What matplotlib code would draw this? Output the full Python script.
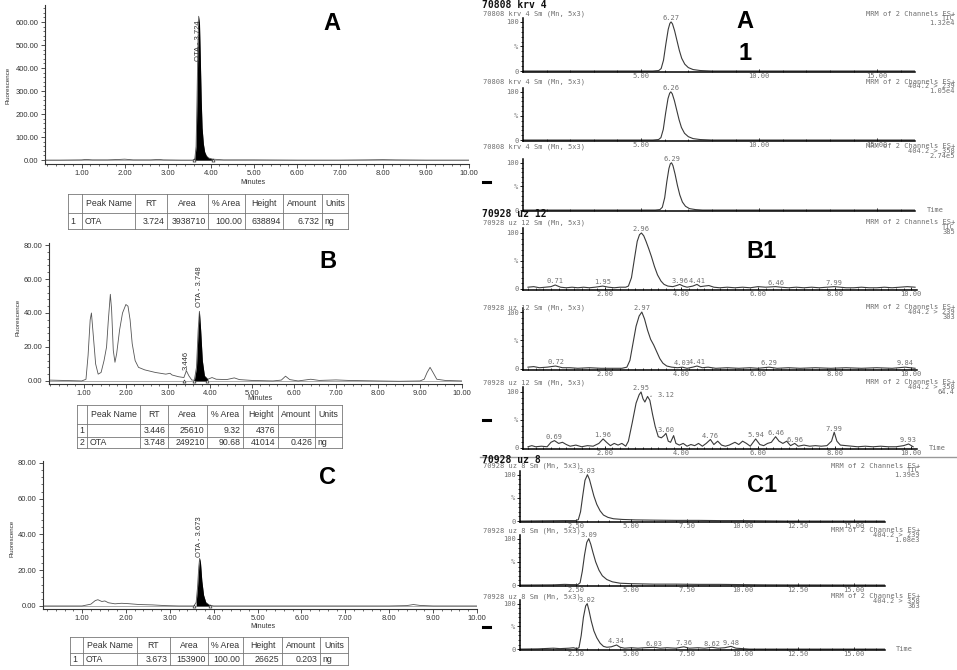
#!/usr/bin/env python3
"""
Chromatogram composite: HPLC-FLD runs (A, B, C) left, LC-MS/MS MRM runs (A1, B1, C1) right.
"""
import numpy as np
import matplotlib
matplotlib.use('Agg')
import matplotlib.pyplot as plt
from matplotlib.ticker import MultipleLocator, FormatStrFormatter, FixedLocator, FixedFormatter

plt.rcParams['font.family'] = ['Liberation Sans', 'DejaVu Sans']

W, H = 957, 670
MONO = 'DejaVu Sans Mono'
GREY = '#707070'
MS_FS = 5.0

# ── HPLC-FLD traces: (minutes, fluorescence) ────────────────────────────────
FLD_A = [(0.15, 0), (0.5, 0), (1.0, 1), (1.1, 3), (1.25, 1), (1.6, 1), (1.9, 3), (2.0, 4),
         (2.2, 1), (2.6, 1), (2.8, 3), (2.9, 1), (3.3, 0), (3.58, 0), (3.63, 5), (3.66, 60),
         (3.68, 250), (3.70, 480), (3.72, 625), (3.74, 590), (3.76, 430), (3.78, 260),
         (3.80, 140), (3.83, 70), (3.86, 35), (3.90, 18), (3.95, 9), (4.05, 4), (4.3, 1),
         (5.0, 1), (6.0, 0), (7.0, 0), (7.6, 1), (8.0, 2), (8.3, 1), (9.0, 0), (10.0, 0)]
FLD_B = [(0.17, 0.5), (0.5, 0.3), (0.95, 0), (1.05, 1), (1.10, 15), (1.15, 36), (1.18, 40),
         (1.22, 28), (1.28, 10), (1.34, 4), (1.41, 5), (1.48, 12), (1.54, 20), (1.58, 35),
         (1.63, 51), (1.66, 42), (1.70, 18), (1.74, 11), (1.78, 16), (1.85, 30), (1.92, 40),
         (2.00, 45), (2.05, 44), (2.10, 36), (2.15, 22), (2.22, 12), (2.30, 8), (2.45, 6.5),
         (2.70, 5), (2.95, 4), (3.05, 4.5), (3.10, 3.5), (3.25, 2.5), (3.38, 2), (3.44, 6),
         (3.50, 3), (3.57, 0.5), (3.63, 0.5), (3.68, 8), (3.72, 30), (3.75, 41), (3.78, 30),
         (3.82, 12), (3.87, 3), (3.95, 1), (4.05, 2), (4.15, 1), (4.4, 0.8), (4.58, 1.8),
         (4.7, 0.8), (5.0, 0.3), (5.5, 0), (5.7, 0.5), (5.80, 2.8), (5.90, 0.8), (6.1, 0),
         (6.4, 1), (6.6, 0.3), (7.0, 0.6), (7.3, 0.3), (8.0, 0), (8.5, -0.2), (9.0, 0),
         (9.1, 1), (9.17, 5), (9.24, 8), (9.31, 5), (9.40, 1), (9.6, 0.3), (10.0, 0)]
FLD_C = [(0.1, 0), (1.0, 0), (1.2, 1), (1.30, 3), (1.36, 3.5), (1.45, 2.5), (1.52, 2.8),
         (1.6, 1.8), (1.75, 1.2), (1.9, 1.5), (2.05, 1.3), (2.3, 0.8), (2.6, 0.6), (2.9, 0.2),
         (3.2, 0), (3.55, 0), (3.60, 2), (3.63, 10), (3.66, 22), (3.68, 26.6), (3.70, 24),
         (3.73, 14), (3.77, 6), (3.82, 2), (3.9, 0.5), (4.0, 0), (8.0, 0), (8.4, 0.2),
         (8.55, 0.8), (8.7, 0.3), (9.0, 0), (10.0, 0)]

# peak annotations: (RT, label, label base in y units)
FLD_A_LABELS = [(3.724, 'OTA - 3.724', 430)]
FLD_B_LABELS = [(3.446, '3.446', 6.5), (3.748, 'OTA - 3.748', 43.5)]
FLD_C_LABELS = [(3.673, 'OTA - 3.673', 27.4)]
FLD_A_FILL = (3.62, 4.05)
FLD_B_FILL = (3.62, 3.95)
FLD_C_FILL = (3.56, 3.92)
FLD_A_MARKS = [3.60, 4.05]
FLD_B_MARKS = [3.38, 3.62, 3.93]
FLD_C_MARKS = [3.55, 3.92]

TABLE_HEADER = ['', 'Peak Name', 'RT', 'Area', '% Area', 'Height', 'Amount', 'Units']
TABLE_A = [['1', 'OTA', '3.724', '3938710', '100.00', '638894', '6.732', 'ng']]
TABLE_B = [['1', '', '3.446', '25610', '9.32', '4376', '', ''],
           ['2', 'OTA', '3.748', '249210', '90.68', '41014', '0.426', 'ng']]
TABLE_C = [['1', 'OTA', '3.673', '153900', '100.00', '26625', '0.203', 'ng']]

# ── LC-MS/MS traces: (time, relative %) ─────────────────────────────────────
A1_TIC = [(0, 0), (5.5, 0), (5.75, 1), (5.85, 5), (5.95, 22), (6.05, 55), (6.15, 85), (6.22, 97),
          (6.27, 100), (6.33, 96), (6.42, 82), (6.52, 62), (6.62, 42), (6.72, 26), (6.85, 14),
          (7.0, 7), (7.2, 3), (7.5, 1), (8.0, 0), (16.6, 0)]
A1_239 = [(0, 0), (5.5, 0), (5.74, 1), (5.84, 5), (5.94, 22), (6.04, 56), (6.14, 86), (6.21, 97),
          (6.26, 100), (6.32, 96), (6.41, 82), (6.51, 62), (6.61, 42), (6.71, 26), (6.84, 14),
          (7.0, 7), (7.2, 3), (7.5, 1), (8.0, 0), (16.6, 0)]
A1_358 = [(0, 0), (5.6, 0), (5.8, 1), (5.9, 6), (6.0, 26), (6.09, 60), (6.18, 88), (6.24, 98),
          (6.29, 100), (6.35, 94), (6.44, 76), (6.54, 52), (6.64, 32), (6.75, 17), (6.88, 8),
          (7.05, 3), (7.3, 1), (7.6, 0), (16.6, 0)]

B1_TIC = [(0.0, 3), (0.15, 4), (0.3, 2), (0.45, 3), (0.6, 4), (0.71, 7), (0.85, 3), (1.0, 2),
          (1.15, 3), (1.3, 2), (1.45, 3), (1.6, 2), (1.75, 3), (1.95, 5), (2.1, 3), (2.25, 2),
          (2.4, 3), (2.55, 3), (2.62, 5), (2.70, 20), (2.78, 55), (2.85, 85), (2.91, 97),
          (2.96, 100), (3.02, 95), (3.08, 85), (3.15, 72), (3.22, 58), (3.30, 40), (3.38, 25),
          (3.47, 14), (3.55, 8), (3.65, 5), (3.78, 4), (3.88, 6), (3.96, 8), (4.05, 5),
          (4.15, 3), (4.3, 5), (4.41, 8), (4.5, 4), (4.6, 5), (4.72, 6), (4.85, 3), (5.0, 2),
          (5.2, 3), (5.4, 2), (5.6, 3), (5.8, 2), (6.0, 4), (6.2, 3), (6.46, 4), (6.6, 3),
          (6.8, 2), (7.0, 3), (7.2, 2), (7.4, 3), (7.6, 2), (7.8, 3), (7.99, 4), (8.15, 3),
          (8.3, 2), (8.5, 2), (8.7, 3), (8.9, 2), (9.1, 2), (9.3, 3), (9.5, 2), (9.7, 3),
          (9.9, 4), (10.1, 3)]
B1_239 = [(0, 3), (0.15, 4), (0.3, 2), (0.5, 3), (0.72, 5), (0.9, 2), (1.1, 2), (1.3, 1),
          (1.6, 2), (1.9, 1), (2.2, 1), (2.45, 1), (2.58, 3), (2.66, 15), (2.74, 45),
          (2.82, 75), (2.90, 93), (2.97, 100), (3.04, 88), (3.12, 68), (3.20, 52), (3.28, 42),
          (3.36, 30), (3.44, 18), (3.52, 10), (3.62, 5), (3.75, 3), (3.9, 2), (4.03, 3),
          (4.15, 1), (4.3, 3), (4.41, 5), (4.55, 2), (4.7, 3), (4.9, 1), (5.2, 2), (5.5, 1),
          (5.8, 2), (6.0, 1), (6.29, 3), (6.5, 1), (6.8, 2), (7.1, 1), (7.5, 2), (7.9, 1),
          (8.3, 2), (8.7, 1), (9.1, 2), (9.5, 1), (9.84, 3), (10.1, 1)]
B1_358 = [(0, 2), (0.1, 4), (0.2, 2), (0.35, 3), (0.5, 2), (0.6, 10), (0.69, 13), (0.8, 8),
          (0.9, 10), (1.0, 6), (1.1, 3), (1.25, 5), (1.4, 2), (1.55, 4), (1.7, 3), (1.85, 8),
          (1.96, 16), (2.05, 10), (2.15, 4), (2.25, 8), (2.35, 5), (2.45, 8), (2.55, 3),
          (2.62, 12), (2.72, 45), (2.82, 80), (2.90, 95), (2.95, 100), (3.00, 88), (3.05, 82),
          (3.12, 92), (3.18, 85), (3.25, 60), (3.32, 38), (3.40, 20), (3.48, 18), (3.55, 22),
          (3.60, 26), (3.66, 12), (3.72, 10), (3.80, 22), (3.86, 8), (3.95, 5), (4.05, 8),
          (4.15, 3), (4.25, 6), (4.35, 4), (4.45, 8), (4.55, 3), (4.65, 8), (4.76, 15),
          (4.85, 6), (4.95, 12), (5.05, 5), (5.15, 3), (5.25, 5), (5.40, 10), (5.50, 6),
          (5.60, 12), (5.70, 8), (5.80, 3), (5.94, 16), (6.05, 6), (6.15, 4), (6.25, 8),
          (6.35, 10), (6.46, 20), (6.55, 12), (6.65, 8), (6.75, 12), (6.85, 4), (6.96, 8),
          (7.05, 3), (7.2, 5), (7.35, 3), (7.5, 4), (7.65, 3), (7.8, 4), (7.92, 12),
          (7.99, 28), (8.06, 12), (8.15, 5), (8.3, 4), (8.45, 3), (8.6, 2), (8.8, 3), (9.0, 2),
          (9.2, 3), (9.4, 2), (9.6, 2), (9.8, 4), (9.93, 7), (10.05, 2)]

C1_TIC = [(0, 0), (1.0, 0.5), (2.0, 1), (2.5, 1), (2.62, 3), (2.72, 20), (2.82, 55),
          (2.92, 88), (3.03, 100), (3.12, 90), (3.22, 72), (3.32, 54), (3.45, 36), (3.6, 22),
          (3.75, 13), (3.95, 8), (4.2, 5), (4.6, 3.5), (5.2, 2.5), (6.0, 2), (7.0, 1.5),
          (8.0, 1.5), (9.0, 1), (10.0, 1), (11, 0.5), (12, 0), (16.4, 0)]
C1_239 = [(0, 0), (1.5, 0.5), (2.0, 1.5), (2.3, 1), (2.6, 1), (2.70, 5), (2.80, 30),
          (2.90, 65), (3.00, 92), (3.09, 100), (3.18, 88), (3.28, 70), (3.40, 50), (3.55, 32),
          (3.70, 20), (3.90, 12), (4.15, 7), (4.5, 4), (5.0, 3), (6.0, 2), (7.0, 2), (8.0, 1.5),
          (9.0, 1.5), (10.0, 1), (11, 0.5), (12, 0.3), (16.4, 0)]
C1_358 = [(0, 0), (0.8, 0.5), (1.5, 2), (1.8, 1), (2.2, 2), (2.4, 3), (2.55, 1), (2.65, 3),
          (2.75, 30), (2.85, 70), (2.95, 95), (3.02, 100), (3.10, 85), (3.2, 62), (3.32, 40),
          (3.45, 25), (3.6, 13), (3.75, 6), (3.9, 4), (4.1, 5), (4.34, 9), (4.5, 4), (4.7, 2),
          (5.0, 3), (5.3, 2), (5.6, 3), (6.03, 4), (6.3, 2), (6.6, 3), (7.0, 2), (7.36, 5),
          (7.6, 2), (8.0, 3), (8.3, 2), (8.62, 4), (8.9, 2), (9.2, 3), (9.48, 6), (9.7, 2),
          (10.0, 1), (10.3, 0), (16.4, 0)]

A1_PEAKS = [[6.27], [6.26], [6.29]]
B1_PEAKS = [[0.71, 1.95, 2.96, 3.96, 4.41, 6.46, 7.99],
            [0.72, 2.97, 4.03, 4.41, 6.29, 9.84],
            [0.69, 1.96, 2.95, 3.12, 3.60, 4.76, 5.94, 6.46, 6.96, 7.99, 9.93]]
C1_PEAKS = [[3.03], [3.09], [3.02, 4.34, 6.03, 7.36, 8.62, 9.48]]

A1_SAMPLE, B1_SAMPLE, C1_SAMPLE = '70808 krv 4', '70928 uz 12', '70928 uz 8'
A1_INFO = [('TIC', '1.32e4'), ('404.2 > 239', '1.05e4'), ('404.2 > 358', '2.74e5')]
B1_INFO = [('TIC', '385'), ('404.2 > 239', '303'), ('404.2 > 358', '64.4')]
C1_INFO = [('TIC', '1.39e3'), ('404.2 > 239', '1.08e3'), ('404.2 > 358', '363')]
A1_TICKS = [5.0, 10.0, 15.0]
B1_TICKS = [2.0, 4.0, 6.0, 8.0, 10.0]
C1_TICKS = [2.5, 5.0, 7.5, 10.0, 12.5, 15.0]


def box(l, t, r, b):
    return [l / W, 1 - b / H, (r - l) / W, (b - t) / H]


def ftext(fig, x, y, s, **kw):
    fig.text(x / W, 1 - y / H, s, **kw)


def fld_panel(fig, rect, data, xlim, ylim, ystep, fill, labels, marks):
    t, y = map(np.array, zip(*data))
    ax = fig.add_axes(rect)
    ax.axhline(0, color='#888888', lw=0.5, zorder=1)
    ax.plot(t, y, color='#555555', lw=0.6, zorder=2)
    ax.fill_between(t, 0, y, where=(t >= fill[0]) & (t <= fill[1]),
                    color='black', lw=0, zorder=3)
    ax.plot(marks, np.full(len(marks), 0.0), ls='none', marker='^', ms=2.2,
            mfc='white', mec='#333333', mew=0.5, zorder=4, clip_on=False)
    for rt, txt, yb in labels:
        ax.text(rt, yb, txt, rotation=90, ha='center', va='bottom',
                fontsize=5.5, color='#333333', zorder=5)
    ax.set_xlim(*xlim)
    ax.set_ylim(*ylim)
    ax.xaxis.set_major_locator(MultipleLocator(1.0))
    ax.xaxis.set_minor_locator(MultipleLocator(0.2))
    ax.yaxis.set_major_locator(MultipleLocator(ystep))
    ax.yaxis.set_minor_locator(MultipleLocator(ystep / 5))
    ax.xaxis.set_major_formatter(FormatStrFormatter('%.2f'))
    ax.yaxis.set_major_formatter(FormatStrFormatter('%.2f'))
    for s in ('top', 'right'):
        ax.spines[s].set_visible(False)
    for s in ('left', 'bottom'):
        ax.spines[s].set_color('#333333')
        ax.spines[s].set_linewidth(0.8)
    ax.tick_params(which='major', length=3, width=0.6, labelsize=5.5, pad=1.5,
                   colors='#333333')
    ax.tick_params(which='minor', length=1.6, width=0.5, colors='#333333')
    return ax


def draw_table(fig, cols, rows, cells):
    l, r, t, b = cols[0], cols[-1], rows[0], rows[-1]
    ax = fig.add_axes(box(l, t, r, b))
    ax.set_xlim(l, r)
    ax.set_ylim(b, t)
    ax.axis('off')
    for x in cols:
        ax.plot([x, x], [t, b], color='#777777', lw=0.6, clip_on=False)
    for yv in rows:
        ax.plot([l, r], [yv, yv], color='#777777', lw=0.6, clip_on=False)
    for i, row in enumerate([TABLE_HEADER] + cells):
        yc = (rows[i] + rows[i + 1]) / 2
        for j, s in enumerate(row):
            if i == 0:
                x, ha = (cols[j] + cols[j + 1]) / 2, 'center'
            elif j in (0, 1, 7):
                x, ha = cols[j] + 2.5, 'left'
            else:
                x, ha = cols[j + 1] - 2.5, 'right'
            ax.text(x, yc, s, ha=ha, va='center', fontsize=6.3, color='#333333')


def ms_panel(fig, rect, data, xlim, ticks, minor, peaks, show_xlabels, time_label):
    t, y = map(np.array, zip(*data))
    ax = fig.add_axes(rect)
    ax.plot(t, y, color='#3a3a3a', lw=0.8)
    for p in peaks:
        yp = np.interp(p, t, y)
        if abs(p - 3.12) < 1e-6:
            ax.annotate(f'{p:.2f}', (p, yp), xytext=(7, 1), textcoords='offset points',
                        fontsize=MS_FS, family=MONO, color=GREY, va='center',
                        arrowprops=dict(arrowstyle='-', color=GREY, lw=0.5))
        else:
            ax.annotate(f'{p:.2f}', (p, yp), xytext=(0, 0.5), textcoords='offset points',
                        fontsize=MS_FS, family=MONO, color=GREY, ha='center', va='bottom')
    ax.set_xlim(*xlim)
    ax.set_ylim(-2, 108)
    ax.xaxis.set_major_locator(FixedLocator(ticks))
    ax.xaxis.set_major_formatter(FormatStrFormatter('%.2f'))
    ax.xaxis.set_minor_locator(MultipleLocator(minor))
    ax.yaxis.set_major_locator(FixedLocator([0, 50, 100]))
    ax.yaxis.set_major_formatter(FixedFormatter(['0', '%', '100']))
    ax.yaxis.set_minor_locator(MultipleLocator(10))
    for s in ('top', 'right'):
        ax.spines[s].set_visible(False)
    for s in ('left', 'bottom'):
        ax.spines[s].set_linewidth(1.1)
    ax.tick_params(which='major', length=2.5, width=0.6, labelsize=MS_FS, pad=0.8,
                   labelcolor=GREY)
    ax.tick_params(which='minor', length=1.6, width=0.5)
    ax.tick_params(axis='x', which='both', direction='in', pad=0.6)
    for lab in ax.get_xticklabels() + ax.get_yticklabels():
        lab.set_family(MONO)
    if not show_xlabels:
        ax.tick_params(axis='x', labelbottom=False)
    if time_label:
        ax.text(1.03, 0.02, 'Time', transform=ax.transAxes, fontsize=MS_FS,
                family=MONO, color=GREY, va='center', ha='left')
    return ax


def ms_group(fig, sample, title_y, subs, traces, info, peaks, xlim, ticks, minor,
             right_x, last_xlabels):
    ftext(fig, 482, title_y, sample, fontsize=7, family=MONO, fontweight='bold',
          color='#111111', va='center', ha='left')
    for k, (rect, hy) in enumerate(subs):
        ftext(fig, 483, hy + 0.5, f'{sample} Sm (Mn, 5x3)', fontsize=MS_FS, family=MONO,
              color=GREY, va='center', ha='left')
        lines = ['MRM of 2 Channels ES+', info[k][0], info[k][1]]
        for i, s in enumerate(lines):
            ftext(fig, right_x, hy + 0.5 + i * 4.8, s, fontsize=MS_FS, family=MONO,
                  color=GREY, va='center', ha='right')
        last = k == len(subs) - 1
        ms_panel(fig, box(*rect), traces[k], xlim, ticks, minor, peaks[k],
                 (not last) or last_xlabels, last)


def main():
    fig = plt.figure(figsize=(W / 100, H / 100), dpi=100)

    # ── left: HPLC-FLD ──────────────────────────────────────────────────────
    fld_panel(fig, box(45, 5, 469, 164), FLD_A, (0.15, 10.0), (-17, 674), 100,
              FLD_A_FILL, FLD_A_LABELS, FLD_A_MARKS)
    fld_panel(fig, box(49, 243, 462, 384), FLD_B, (0.17, 10.0), (-1.8, 81.2), 20,
              FLD_B_FILL, FLD_B_LABELS, FLD_B_MARKS)
    fld_panel(fig, box(43, 461, 477, 609), FLD_C, (0.11, 10.0), (-1.7, 81.1), 20,
              FLD_C_FILL, FLD_C_LABELS, FLD_C_MARKS)
    for x, y in [(253, 183), (260, 399), (263, 626)]:
        ftext(fig, x, y, 'Minutes', fontsize=5, color='#333333', ha='center', va='center')
    for x, y in [(8, 85), (18, 317), (12, 538)]:
        ftext(fig, x, y, 'Fluorescence', fontsize=4.5, color='#333333', rotation=90,
              ha='center', va='center')

    draw_table(fig, [68, 82, 135, 167, 208, 245, 283, 322, 348], [194, 213, 229], TABLE_A)
    draw_table(fig, [77, 87, 140, 168, 207, 243, 278, 315, 342], [405, 424, 437, 448], TABLE_B)
    draw_table(fig, [70, 83, 137, 170, 208, 243, 282, 320, 348], [637, 653, 665], TABLE_C)

    # ── right: LC-MS/MS ─────────────────────────────────────────────────────
    ms_group(fig, A1_SAMPLE, 5,
             [((523, 18, 915, 72), 13), ((523, 88, 915, 141), 81), ((523, 159, 915, 211), 146)],
             [A1_TIC, A1_239, A1_358], A1_INFO, A1_PEAKS, (0.0, 16.6), A1_TICKS, 1.0, 955, False)
    ms_group(fig, B1_SAMPLE, 214,
             [((523, 228.5, 917, 290), 222), ((523, 307.5, 917, 370), 307),
              ((523, 387.5, 917, 449), 382)],
             [B1_TIC, B1_239, B1_358], B1_INFO, B1_PEAKS, (-0.13, 10.15), B1_TICKS, 0.2, 955, True)
    ms_group(fig, C1_SAMPLE, 460,
             [((520, 471, 885, 522), 465), ((520, 535, 885, 586), 530), ((520, 600, 885, 650), 596)],
             [C1_TIC, C1_239, C1_358], C1_INFO, C1_PEAKS, (0.0, 16.4), C1_TICKS, 0.5, 920, True)

    fig.add_artist(plt.Line2D([480 / W, 1.0], [1 - 457 / H] * 2, color='#999999', lw=1.0))
    for y in (182, 420, 627):
        fig.add_artist(plt.Line2D([483 / W, 490 / W], [1 - y / H] * 2, color='black', lw=2.2))

    # panel letters
    for x, y, s in [(332, 23, 'A'), (328, 262, 'B'), (328, 478, 'C'),
                    (745, 22, 'A'), (745, 54, '1'), (762, 252, 'B1'), (762, 485, 'C1')]:
        ftext(fig, x, y, s, fontsize=17, fontweight='bold', color='black',
              ha='center', va='center')

    fig.savefig('out.png', dpi=100, facecolor='white')


if __name__ == '__main__':
    main()
